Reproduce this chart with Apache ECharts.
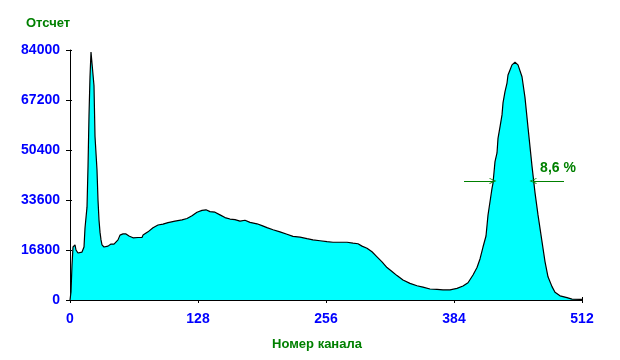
<!DOCTYPE html>
<html>
<head>
<meta charset="utf-8">
<script src="https://cdn.jsdelivr.net/npm/echarts@6/dist/echarts.min.js"></script>
<style>html,body{margin:0;padding:0;background:#fff}#c{width:620px;height:360px}</style>
</head>
<body>
<div id="c"></div>
<script>
var channels = [0,1,2,3,5,6,8,10,12,14,15,17,18,19,20,21,23,24,25,27,28,29,30,31,32,34,38,41,44,48,50,53,56,
  59,63,68,72,73,78,83,88,93,98,105,112,117,122,127,132,136,140,145,150,155,160,165,170,175,180,187,192,197,203,210,217,223,230,237,243,250,257,263,270,277,283,288,292,297,302,307,312,317,322,327,333,340,347,353,360,367,373,380,387,393,398,403,407,410,413,416,418,420,422,423,425,427,428,430,432,433,435,437,438,440,442,443,445,448,452,455,458,462,465,468,472,475,478,482,485,490,497,502,510,512];
var counts = [0,2700,11800,17800,18500,16800,15800,15500,16100,17800,24200,31200,44700,62000,75000,83300,83300,72000,55000,43700,33600,26900,22800,20200,18500,17800,18100,18800,18800,20200,21800,22200,22200,
  21500,20900,21000,21000,21800,22900,24300,25200,25500,26000,26500,26900,27400,28300,29500,30100,30300,29700,29500,28600,27700,27200,27000,26500,26800,26100,25600,25000,24300,23600,22900,22100,21400,21100,20600,20200,19900,19600,19400,19400,19400,19100,18900,18100,17400,16200,14500,12800,10900,9600,8200,6700,5600,4800,4300,3700,3600,3400,3400,3900,4700,5800,8400,10900,13800,17800,21500,28500,33000,37500,39300,46500,49400,54300,58200,62200,66200,70000,72900,75600,77300,79000,79500,79900,79000,75000,68000,58000,45000,36100,28600,19600,12900,7800,4500,2600,1400,800,300,200,200];
var xTicks = [0,128,256,384,512];
var yTicks = [0,16800,33600,50400,67200,84000];
var fwhmLevel = 40000;
var leftArrow = [394, 423];
var rightArrow = [494, 463];
var fwhmLabel = '8,6 %';
var fwhmLabelPos = [488, 44400];

var pts = channels.map(function(c,i){return [c, counts[i]];});
var blue = '#0000ff', green = '#008000';
var lblFont = {color: blue, fontWeight: 'bold', fontSize: 14, fontFamily: 'Liberation Sans, Arial, sans-serif'};
var chev = 'path://M0,10 L5,0 L10,10 L8.6,10 L5,2.8 L1.4,10 Z';

var chart = echarts.init(document.getElementById('c'), null, {renderer: 'canvas'});
chart.setOption({
  animation: false,
  backgroundColor: '#fff',
  title: [
    {text: 'Отсчет', left: 21, top: 12, textStyle: {color: green, fontWeight: 'bold', fontSize: 13, fontFamily: 'Liberation Sans, Arial, sans-serif'}},
    {text: 'Номер канала', left: 312, textAlign: 'center', top: 333, textStyle: {color: green, fontWeight: 'bold', fontSize: 13, fontFamily: 'Liberation Sans, Arial, sans-serif'}}
  ],
  grid: {left: 70, right: 38, top: 50, bottom: 60, containLabel: false},
  xAxis: [
    {type: 'value', min: 0, max: 512, interval: 128, position: 'bottom',
     axisLine: {show: true, onZero: false, lineStyle: {color: '#000', width: 1}},
     axisTick: {show: true, inside: false, length: 3, lineStyle: {color: '#000'}},
     axisLabel: Object.assign({margin: 12, formatter: function(v){return xTicks.indexOf(v) >= 0 ? String(v) : '';}}, lblFont),
     splitLine: {show: false}},
    {type: 'value', min: 0, max: 512, interval: 128, position: 'bottom', gridIndex: 0,
     axisLine: {show: false, onZero: false},
     axisTick: {show: true, inside: true, length: 3, lineStyle: {color: '#000'}},
     axisLabel: {show: false}, splitLine: {show: false}}
  ],
  yAxis: [
    {type: 'value', min: 0, max: 84000, interval: 16800, position: 'left',
     axisLine: {show: true, onZero: false, lineStyle: {color: '#000', width: 1}},
     axisTick: {show: true, inside: false, length: 4, lineStyle: {color: '#000'}},
     axisLabel: Object.assign({margin: 10, formatter: function(v){return yTicks.indexOf(v) >= 0 ? String(v) : '';}}, lblFont),
     splitLine: {show: false}},
    {type: 'value', min: 0, max: 84000, interval: 16800, position: 'left',
     axisLine: {show: false, onZero: false},
     axisTick: {show: true, inside: true, length: 2, lineStyle: {color: '#000'}},
     axisLabel: {show: false}, splitLine: {show: false}}
  ],
  series: [{
    type: 'line', data: pts, xAxisIndex: 0, yAxisIndex: 0,
    showSymbol: false, symbol: 'none', smooth: false,
    lineStyle: {color: '#000', width: 1.2},
    areaStyle: {color: '#00ffff', opacity: 1},
    z: 2,
    markLine: {
      silent: true, symbol: ['none', chev], symbolSize: [6, 7],
      lineStyle: {color: green, width: 1, type: 'solid'},
      label: {show: false},
      data: [
        [{coord: [leftArrow[0], fwhmLevel]}, {coord: [leftArrow[1], fwhmLevel]}],
        [{coord: [rightArrow[0], fwhmLevel]}, {coord: [rightArrow[1], fwhmLevel]}]
      ]
    },
    markPoint: {
      silent: true, symbol: 'circle', symbolSize: 1,
      itemStyle: {color: 'rgba(0,0,0,0)'},
      label: {show: true, position: 'inside', formatter: fwhmLabel, color: green, fontWeight: 'bold', fontSize: 14, fontFamily: 'Liberation Sans, Arial, sans-serif'},
      data: [{coord: fwhmLabelPos}]
    }
  }]
});
</script>
</body>
</html>
